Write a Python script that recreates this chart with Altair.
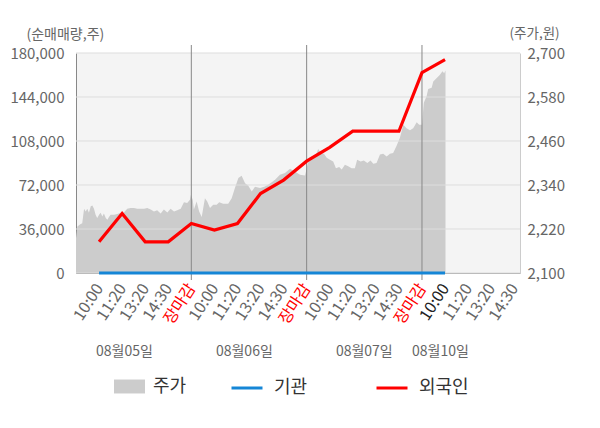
import json
import altair as alt
import pandas as pd

# ---------------- data ----------------
# x unit: "slot" – each trading day spans 5 slots (open, 10:00, 11:20, 13:20, 14:30, close)
price_slots = [0.00, 0.06, 0.17, 0.27, 0.35, 0.42, 0.49, 0.56, 0.64, 0.71, 0.78, 0.85, 0.92,
               1.00, 1.07, 1.14, 1.21, 1.29, 1.36, 1.43, 1.50, 1.65, 1.79, 1.94, 2.08, 2.22,
               2.37, 2.51, 2.66, 2.80, 2.95, 3.09, 3.24, 3.38, 3.52, 3.67, 3.81, 3.96, 4.10,
               4.25, 4.39, 4.54, 4.68, 4.82, 4.94,
               4.98, 5.06, 5.11, 5.23, 5.34, 5.45, 5.59, 5.69, 5.81, 5.95, 6.10, 6.21, 6.38,
               6.60, 6.75, 6.89, 7.04, 7.18, 7.33, 7.47, 7.62, 7.76, 7.98, 8.19, 8.41, 8.63,
               8.84, 9.06, 9.28, 9.49, 9.71, 9.93,
               10.07, 10.22, 10.36, 10.50, 10.61, 10.75, 10.87, 11.01, 11.15, 11.27, 11.41,
               11.52, 11.66, 11.80, 11.95, 12.09, 12.19, 12.34, 12.48, 12.63, 12.77, 12.89,
               13.03, 13.18, 13.32, 13.47, 13.61, 13.75, 13.90, 14.04, 14.19, 14.33, 14.48,
               14.62, 14.77, 14.88, 15.00,
               15.08, 15.20, 15.27, 15.42, 15.49, 15.64, 15.78, 15.89, 15.96, 16.02]
price_values = [2195, 2227, 2232, 2236, 2275, 2268, 2275, 2264, 2282, 2284, 2275, 2259, 2250,
                2259, 2264, 2254, 2262, 2250, 2245, 2253, 2259, 2259, 2261, 2264, 2265, 2275,
                2277, 2277, 2275, 2275, 2275, 2277, 2273, 2268, 2271, 2262, 2273, 2265, 2275,
                2268, 2271, 2275, 2293, 2291, 2300,
                2313, 2300, 2273, 2295, 2268, 2253, 2304, 2295, 2277, 2286, 2286, 2293, 2289,
                2289, 2304, 2332, 2359, 2365, 2345, 2338, 2322, 2335, 2332, 2336, 2344, 2354,
                2368, 2373, 2384, 2377, 2368, 2366,
                2404, 2418, 2414, 2438, 2427, 2425, 2414, 2409, 2404, 2386, 2389,
                2382, 2395, 2391, 2386, 2386, 2409, 2404, 2407, 2400, 2407, 2398,
                2400, 2423, 2425, 2418, 2425, 2427, 2447, 2468, 2504, 2495, 2489,
                2495, 2511, 2504, 2504,
                2564, 2582, 2602, 2605, 2622, 2632, 2641, 2650, 2645, 2652]

flow_slots = [1, 2, 3, 4, 5, 6, 7, 8, 9, 10, 11, 12, 13, 14, 15, 16]
foreign_values = [25500, 48600, 25500, 25500, 40500, 35200, 40500, 65000, 76000,
                  91500, 102800, 116000, 116000, 116000, 164000, 174500]
institution_values = [0, 0, 0, 0, 0, 0, 0, 0, 0, 0, 0, 0, 0, 0, 0, 0]

tick_slots = [1, 2, 3, 4, 5, 6, 7, 8, 9, 10, 11, 12, 13, 14, 15, 16, 17, 18, 19]
time_labels = ["10:00", "11:20", "13:20", "14:30", "장마감"]
separator_slots = [5, 10, 15]
day_labels = ["08월05일", "08월06일", "08월07일", "08월10일"]
day_label_slots = [2.1, 7.3, 12.5, 15.8]
volume_ticks = [0, 36000, 72000, 108000, 144000, 180000]
price_ticks = [2100, 2220, 2340, 2460, 2580, 2700]
price_floor = 2100

FONT = "Noto Sans CJK KR"
BLUE = "#1586d6"
RED = "#ff0000"

# ---------------- tables ----------------
price_df = pd.DataFrame({"slot": price_slots, "price": price_values, "name": "주가"})
flow_df = pd.concat([
    pd.DataFrame({"slot": flow_slots, "value": institution_values, "series": "기관"}),
    pd.DataFrame({"slot": flow_slots, "value": foreign_values, "series": "외국인"}),
])
grid_df = pd.DataFrame({"v": volume_ticks})
sep_df = pd.DataFrame({"slot": separator_slots})
day_df = pd.DataFrame({"slot": day_label_slots, "label": day_labels})

label_expr = json.dumps(time_labels, ensure_ascii=False) + "[(datum.value - 1) % 5]"

x_axis = alt.Axis(
    values=tick_slots, labelExpr=label_expr, labelAngle=303, labelAlign="right",
    labelBaseline="middle", labelFontSize=16, labelPadding=12, labelOverlap=False,
    labelFlush=False, ticks=False, grid=False, domainColor="#999999", title=None,
    labelColor={"condition": [{"test": "datum.value % 5 == 0", "value": RED},
                              {"test": "datum.value == 16", "value": "#222222"}],
                "value": "#666666"},
)
x_enc = alt.X("slot:Q", scale=alt.Scale(domain=[0, 19.25], nice=False, zero=False), axis=x_axis)

area = alt.Chart(price_df).mark_area(opacity=1).encode(
    x=x_enc,
    y=alt.Y("price:Q", scale=alt.Scale(domain=[2100, 2700], nice=False, zero=False),
            axis=alt.Axis(orient="right", values=price_ticks, format=",d", grid=False,
                          ticks=False, domainColor="#cccccc", labelColor="#666666",
                          labelFontSize=15, labelPadding=7, title="(주가,원)", titleAngle=0,
                          titleX=-11, titleY=-20, titleAlign="left", titleBaseline="middle",
                          titleFontWeight="normal", titleFontSize=13.5, titleColor="#666666")),
    y2=alt.datum(price_floor),
    fill=alt.Fill("name:N", scale=alt.Scale(domain=["주가"], range=["#cccccc"]),
                  legend=alt.Legend(orient="none", legendX=38, legendY=318, direction="horizontal",
                                    title=None, labelFontSize=18, labelColor="#333333",
                                    symbolType="M-1,-0.45H1V0.45H-1Z", symbolSize=961,
                                    symbolStrokeWidth=0, labelOffset=8, padding=0)),
)

grid = alt.Chart(grid_df).mark_rule(color="#dddddd", strokeWidth=1).encode(
    y=alt.Y("v:Q", scale=alt.Scale(domain=[0, 180000], nice=False),
            axis=alt.Axis(orient="left", values=volume_ticks, format=",d", grid=False,
                          ticks=False, domainColor="#888888", labelColor="#666666",
                          labelFontSize=15, labelPadding=12, title="(순매매량,주)",
                          titleAngle=0, titleX=-50, titleY=-19, titleAlign="left",
                          titleBaseline="middle", titleFontWeight="normal", titleFontSize=14,
                          titleColor="#666666")),
)

seps = alt.Chart(sep_df).mark_rule(color="#888888", strokeWidth=1).encode(
    x=x_enc, y=alt.value(-8), y2=alt.value(227),
)

lines = alt.Chart(flow_df).mark_line(strokeWidth=3.2).encode(
    x=x_enc,
    y=alt.Y("value:Q", scale=alt.Scale(domain=[0, 180000], nice=False), axis=None),
    stroke=alt.Stroke("series:N", scale=alt.Scale(domain=["기관", "외국인"], range=[BLUE, RED]),
                      legend=alt.Legend(orient="none", legendX=154, legendY=318,
                                        direction="horizontal", title=None, labelFontSize=18,
                                        labelColor="#333333", symbolType="stroke",
                                        symbolSize=961, symbolStrokeWidth=3, labelOffset=10,
                                        columnPadding=62, padding=0)),
    detail="series:N",
)

days = alt.Chart(day_df).mark_text(fontSize=14, color="#666666", baseline="middle",
                                   align="center").encode(
    x=x_enc, y=alt.value(299), text="label:N",
)

chart = alt.layer(area, grid, seps, lines, days).resolve_scale(
    y="independent"
).properties(
    width=444, height=220,
    padding={"left": 68, "top": 45, "right": 72, "bottom": 147},
    autosize=alt.AutoSizeParams(type="none"),
).configure(font=FONT).configure_view(fill="#f4f4f4", strokeWidth=0)

chart.save("out.html", embed_options={"renderer": "svg", "actions": False})
